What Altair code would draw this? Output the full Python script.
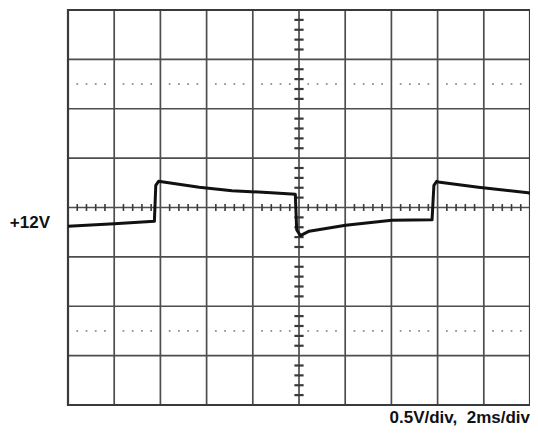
import altair as alt
import pandas as pd

# Trace (divisions: x 0..10, y -4..4, center = +12V)
trace_x = [0.0, 1.0, 1.87, 1.90, 1.96, 2.03, 2.84, 3.55, 4.40, 4.92, 4.95, 5.03, 5.22, 6.01, 7.01, 7.88, 7.92, 7.98, 8.05, 8.88, 9.96, 10.0]
trace_y = [-0.38, -0.33, -0.28, 0.45, 0.53, 0.52, 0.41, 0.34, 0.30, 0.27, -0.45, -0.57, -0.48, -0.36, -0.26, -0.25, 0.45, 0.53, 0.51, 0.41, 0.30, 0.29]

grid_x = [0, 1, 2, 3, 4, 5, 6, 7, 8, 9, 10]
grid_y = [-4, -3, -2, -1, 0, 1, 2, 3, 4]
dotted_y = [2.5, -2.5]
minor = [i / 5 for i in range(1, 50) if i % 5 != 0]        # 0.2-div minor positions along x
minor_v = [i / 5 - 4 for i in range(1, 40) if i % 5 != 0]   # along y

left_label = "+12V"
scale_label = "0.5V/div,\u00a0 2ms/div"

W, H = 462, 395
xs = alt.Scale(domain=[0, 10], nice=False, zero=False)
ys = alt.Scale(domain=[-4, 4], nice=False, zero=False)

gx = pd.DataFrame({"x": grid_x})
gy = pd.DataFrame({"y": grid_y})

vgrid = alt.Chart(gx).mark_rule(color="#4d4d4d", strokeWidth=1.7).encode(
    x=alt.X("x:Q", scale=xs, axis=None))
hgrid = alt.Chart(gy).mark_rule(color="#4d4d4d", strokeWidth=1.7).encode(
    y=alt.Y("y:Q", scale=ys, axis=None))

border = alt.Chart(pd.DataFrame({"x": [0], "x2": [10], "y": [-4], "y2": [4]})).mark_rect(
    fill=None, stroke="#3a3a3a", strokeWidth=2.2).encode(
    x=alt.X("x:Q", scale=xs, axis=None), x2="x2:Q",
    y=alt.Y("y:Q", scale=ys, axis=None), y2="y2:Q")

dots_df = pd.DataFrame([{"x": m, "y": d} for d in dotted_y for m in minor])
dots = alt.Chart(dots_df).mark_square(size=3, color="#8a8a8a", opacity=1).encode(
    x=alt.X("x:Q", scale=xs, axis=None), y=alt.Y("y:Q", scale=ys, axis=None))

hticks_df = pd.DataFrame({"x": minor, "y": [-0.07] * len(minor), "y2": [0.07] * len(minor)})
hticks = alt.Chart(hticks_df).mark_rule(color="#3a3a3a", strokeWidth=1.6).encode(
    x=alt.X("x:Q", scale=xs, axis=None),
    y=alt.Y("y:Q", scale=ys, axis=None), y2="y2:Q")

vticks_df = pd.DataFrame({"y": minor_v, "x": [4.90] * len(minor_v), "x2": [5.10] * len(minor_v)})
vticks = alt.Chart(vticks_df).mark_rule(color="#3a3a3a", strokeWidth=2.2).encode(
    y=alt.Y("y:Q", scale=ys, axis=None),
    x=alt.X("x:Q", scale=xs, axis=None), x2="x2:Q")

tr = pd.DataFrame({"x": trace_x, "y": trace_y, "o": list(range(len(trace_x)))})
trace = alt.Chart(tr).mark_line(color="#111111", strokeWidth=3, strokeJoin="round").encode(
    x=alt.X("x:Q", scale=xs, axis=None), y=alt.Y("y:Q", scale=ys, axis=None), order="o:Q")

lab1 = alt.Chart(pd.DataFrame({"t": [left_label]})).mark_text(
    font="Liberation Sans", fontWeight="bold", fontSize=17, align="right", baseline="middle",
    color="#111111").encode(text="t:N", x=alt.value(-18), y=alt.value(213))

lab2 = alt.Chart(pd.DataFrame({"t": [scale_label]})).mark_text(
    font="Liberation Sans", fontWeight="bold", fontSize=17, align="right", baseline="alphabetic",
    color="#111111").encode(text="t:N", x=alt.value(W), y=alt.value(413))

chart = alt.layer(vgrid, hgrid, dots, hticks, vticks, border, trace, lab1, lab2).properties(
    width=W, height=H,
    autosize=alt.AutoSizeParams(type="none"),
    padding={"left": 60, "top": 2, "right": 0, "bottom": 23},
).configure_view(stroke=None).configure(background="white")

chart.save("out.html", embed_options={"renderer": "svg", "actions": False})
